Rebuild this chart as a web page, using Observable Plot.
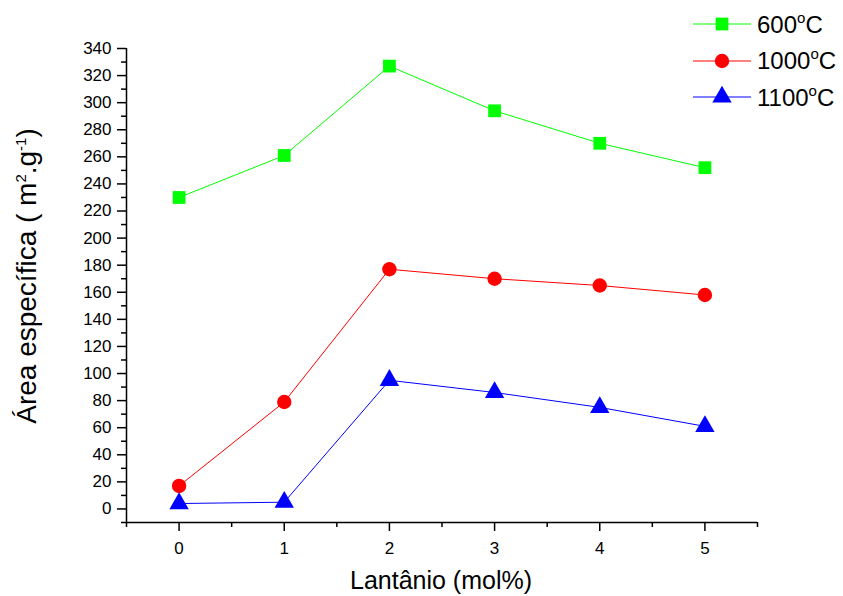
<!DOCTYPE html>
<html><head><meta charset="utf-8">
<script src="https://cdn.jsdelivr.net/npm/d3@7"></script>
<script src="https://cdn.jsdelivr.net/npm/@observablehq/plot@0.6"></script>
<style>
body{margin:0;background:#fff;font-family:"Liberation Sans",Arial,sans-serif;}
#wrap{position:relative;width:843px;height:596px;}
#legend{position:absolute;left:692px;top:6px;}
.row{display:flex;align-items:center;height:36.5px;}
.lab{font-size:24px;margin-left:5px;color:#000;}
.lab sup{font-size:15px;position:relative;top:-1px;}
#ylab{position:absolute;left:27px;top:276px;transform:translate(-50%,-50%) rotate(-90deg);font-size:28px;white-space:nowrap;}
#ylab sup{font-size:15px;}
#xlab{position:absolute;left:441px;top:580px;transform:translate(-50%,-50%);font-size:25px;white-space:nowrap;}
</style></head>
<body><div id="wrap"></div>
<script>
const lantanio = [0, 1, 2, 3, 4, 5];
const s600 = [230, 261, 327, 294, 270, 252];
const s1000 = [17, 79, 177, 170, 165, 158];
const s1100 = [4, 5, 95, 86, 75, 61];
const seriesNames = ["600", "1000", "1100"];
const seriesColors = ["#00ff00", "#ff0000", "#0000ff"];
const seriesSymbols = ["square", "circle", "triangle"];
const yMajor = d3.range(0, 341, 20);
const yMinor = d3.range(-10, 341, 20);
const xMajor = [0, 1, 2, 3, 4, 5];
const xMinor = [-0.5, 0.5, 1.5, 2.5, 3.5, 4.5, 5.5];

const values = [s600, s1000, s1100];
const data = [];
values.forEach((arr, i) => arr.forEach((v, j) => data.push({x: lantanio[j], y: v, s: seriesNames[i], c: seriesColors[i], sym: seriesSymbols[i]})));

const plot = Plot.plot({
  width: 843, height: 596,
  marginLeft: 126, marginRight: 86, marginTop: 48, marginBottom: 74,
  style: {fontFamily: "Liberation Sans, Arial, sans-serif", fontSize: "17px", color: "#000", background: "#fff"},
  x: {domain: [-0.5, 5.5], label: null},
  y: {domain: [-10, 340], label: null},
  marks: [
    Plot.axisY({ticks: yMinor, tickSize: 5, tickFormat: () => "", strokeWidth: 1.5}),
    Plot.axisY({ticks: yMajor, tickSize: 9, tickPadding: 6, strokeWidth: 1.5, fontSize: 17, tickFormat: d => String(d)}),
    Plot.axisX({ticks: xMinor, tickSize: 5, tickFormat: () => "", strokeWidth: 1.5}),
    Plot.axisX({ticks: xMajor, tickSize: 9, tickPadding: 10, strokeWidth: 1.5, fontSize: 17, tickFormat: d => String(d)}),
    Plot.ruleX([-0.5], {strokeWidth: 1.5}),
    Plot.ruleY([-10], {strokeWidth: 1.5}),
    Plot.line(data, {x: "x", y: "y", z: "s", stroke: "c", strokeWidth: 1}),
    Plot.dot(data, {x: "x", y: "y", symbol: "sym", fill: "c", r: 7.2, stroke: null})
  ]
});
const wrap = document.getElementById("wrap");
wrap.appendChild(plot);

const leg = document.createElement("div");
leg.id = "legend";
const symPaths = {square: d3.symbolSquare, circle: d3.symbolCircle, triangle: d3.symbolTriangle};
seriesNames.forEach((n, i) => {
  const row = document.createElement("div");
  row.className = "row";
  const svg = d3.create("svg").attr("width", 60).attr("height", 30);
  svg.append("line").attr("x1", 1).attr("x2", 59).attr("y1", 15).attr("y2", 15).attr("stroke", seriesColors[i]).attr("stroke-width", 1);
  svg.append("path").attr("d", d3.symbol(symPaths[seriesSymbols[i]], Math.PI * 7.2 * 7.2)()).attr("transform", "translate(30,15)").attr("fill", seriesColors[i]);
  row.appendChild(svg.node());
  const lab = document.createElement("span");
  lab.className = "lab";
  lab.innerHTML = n + "<sup>o</sup>C";
  row.appendChild(lab);
  leg.appendChild(row);
});
wrap.appendChild(leg);

const yl = document.createElement("div");
yl.id = "ylab";
yl.innerHTML = "Área específica ( m<sup>2</sup>.g<sup>-1</sup>)";
wrap.appendChild(yl);
const xl = document.createElement("div");
xl.id = "xlab";
xl.textContent = "Lantânio (mol%)";
wrap.appendChild(xl);
</script></body></html>
